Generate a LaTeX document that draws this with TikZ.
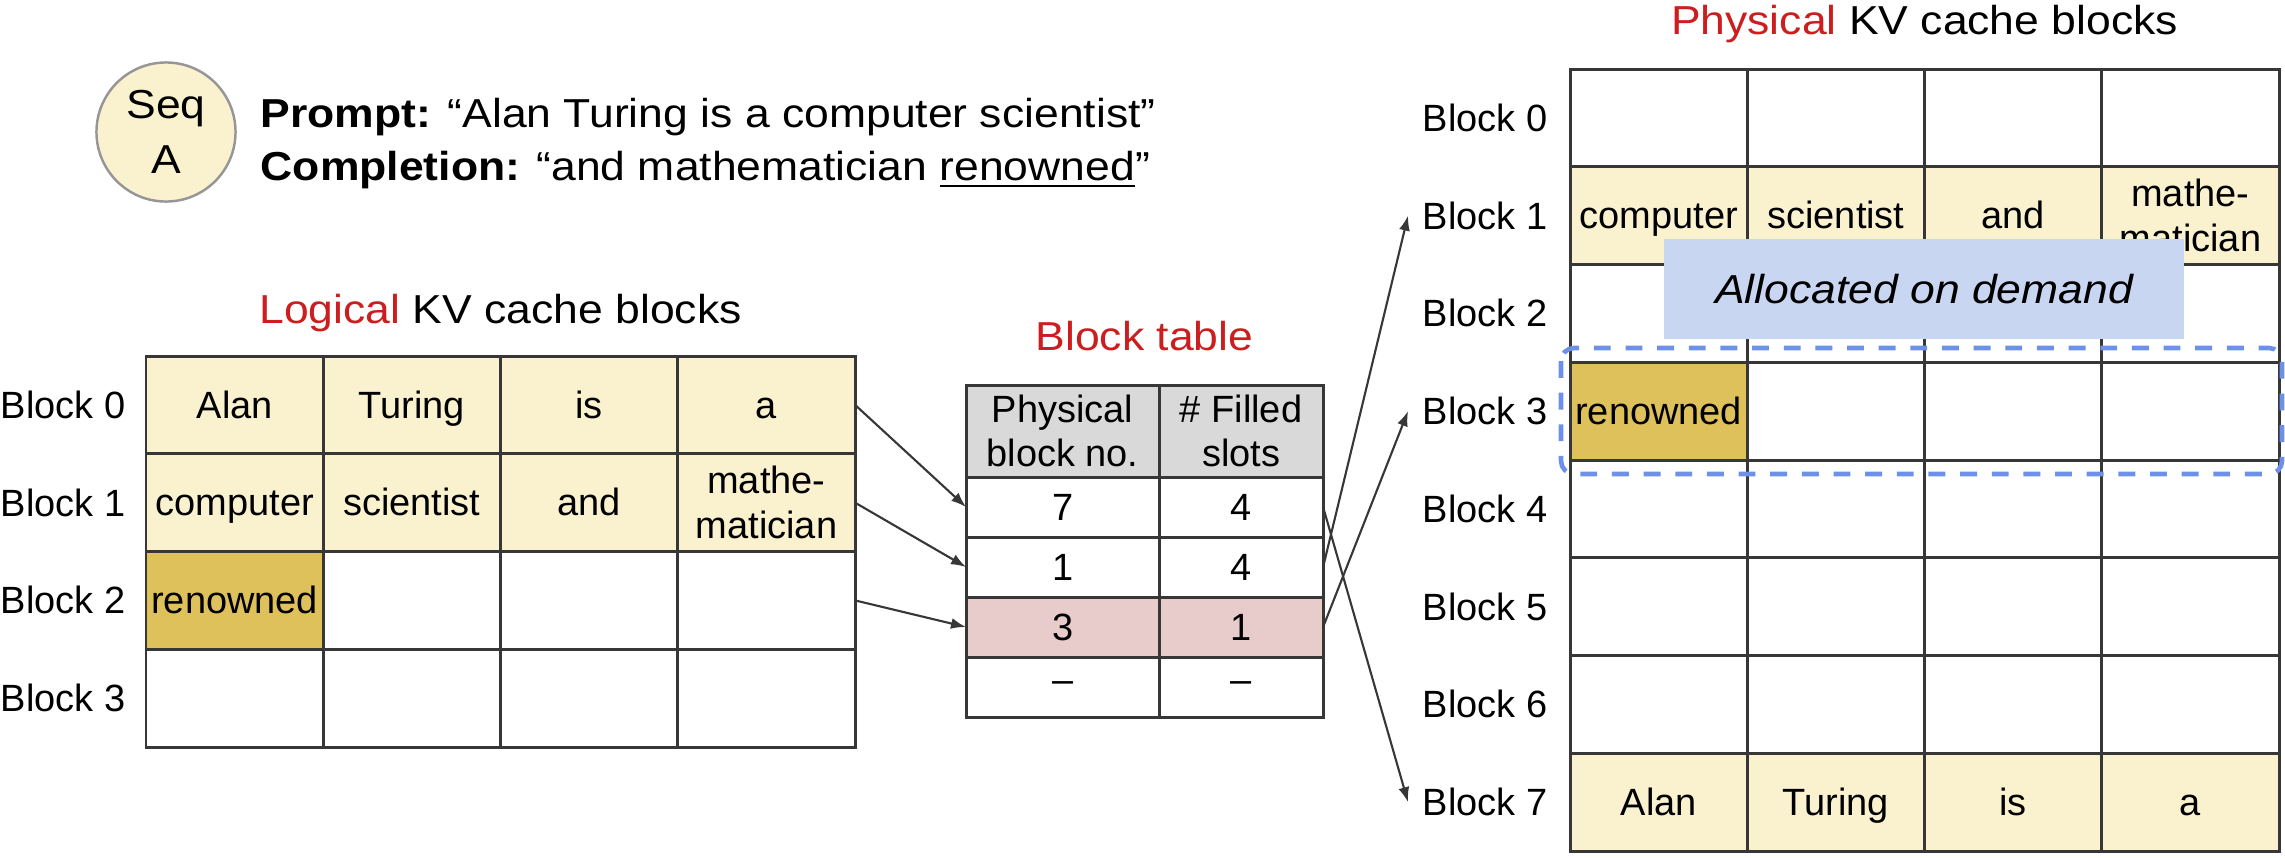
\documentclass[tikz,border=0pt]{standalone}
\usepackage{fontspec}
\setmainfont{Liberation Sans}
\newfontfamily\widefont[FakeStretch=1.1]{Liberation Sans}
\usetikzlibrary{arrows.meta}
\definecolor{lyel}{RGB}{250,241,206}
\definecolor{gold}{RGB}{222,193,90}
\definecolor{pinkrow}{RGB}{232,204,204}
\definecolor{hgray}{RGB}{217,217,217}
\definecolor{lav}{RGB}{201,214,242}
\definecolor{dblue}{RGB}{109,145,232}
\definecolor{tred}{RGB}{204,30,30}
\definecolor{tline}{RGB}{55,55,55}
\definecolor{cgray}{RGB}{150,150,150}
\newcommand\bodyfs{\fontsize{10.8}{12.7}\selectfont}
\newcommand\bigfs{\widefont\fontsize{11.5}{15.1}\selectfont}
\begin{document}
\begin{tikzpicture}[x=0.01cm, y=-0.01cm,
  cellbase/.style={draw=tline, line width=0.85pt, minimum width=1.7725cm, minimum height=0.9775cm,
    inner sep=0pt, outer sep=0pt, anchor=north west, align=center, font=\bodyfs},
  cell/.style={cellbase, text height=9.8pt, text depth=2.3pt},
  tcell/.style={draw=tline, line width=0.85pt, minimum height=0.6cm,
    inner sep=0pt, outer sep=0pt, anchor=north west, align=center, font=\bodyfs},
  lab/.style={anchor=east, inner sep=0pt, font=\bodyfs},
  plab/.style={anchor=east, inner ysep=0pt, inner xsep=0.14cm, font=\bodyfs},
  arr/.style={draw=tline, line width=0.6pt, -{Latex[length=0.15cm,width=0.11cm]}},
  title/.style={font=\bigfs, anchor=base, inner sep=0pt},
]
\useasboundingbox (0,0) rectangle (2285,857);

% ---- sequence description
\node[circle, draw=cgray, line width=0.7pt, fill=lyel, minimum size=1.39cm, inner sep=0pt,
  align=center, font=\widefont\fontsize{11.5}{15.6}\selectfont] (seq) at (166,132) {Seq\\A};
\node[anchor=base west, inner sep=0pt, font=\bigfs] (prompt) at (260,127.5)
  {{\bfseries Prompt:} “Alan Turing is a computer scientist”};
\node[anchor=base west, inner sep=0pt, font=\bigfs] (compl) at (260,180.5)
  {{\bfseries Completion:} “and mathematician \underline{renowned}”};

% ---- logical KV cache blocks
\node[title] (ltitle) at (500.5,323) {\textcolor{tred}{Logical} KV cache blocks};
\foreach \c/\t in {0/Alan,1/Turing,2/is,3/a}
  \node[cell, fill=lyel] (L-0-\c) at ({146+177.25*\c},356) {\t};
\foreach \c/\t in {0/computer,1/scientist,2/and}
  \node[cell, fill=lyel] (L-1-\c) at ({146+177.25*\c},453.75) {\t};
\node[cellbase, fill=lyel] (L-1-3) at (677.75,453.75) {mathe-\\matician};
\node[cell, fill=gold] (L-2-0) at (146,551.5) {renowned};
\foreach \c in {1,2,3}
  \node[cell] (L-2-\c) at ({146+177.25*\c},551.5) {};
\foreach \c in {0,...,3}
  \node[cell] (L-3-\c) at ({146+177.25*\c},649.25) {};
\foreach \r in {0,...,3}
  \node[lab] (LB\r) at (126,{404.875+97.75*\r}) {Block \r};

% ---- block table
\node[title] (btitle) at (1144.5,350.7) {\textcolor{tred}{Block table}};
\node[tcell, fill=hgray, minimum width=1.93cm, minimum height=0.92cm] (T-0-1) at (966,385) {Physical\\block no.};
\node[tcell, fill=hgray, minimum width=1.64cm, minimum height=0.92cm] (T-0-2) at (1159,385) {\# Filled\\slots};
\node[tcell, minimum width=1.93cm] (T-1-1) at (966,477) {7};
\node[tcell, minimum width=1.64cm] (T-1-2) at (1159,477) {4};
\node[tcell, minimum width=1.93cm] (T-2-1) at (966,537) {1};
\node[tcell, minimum width=1.64cm] (T-2-2) at (1159,537) {4};
\node[tcell, fill=pinkrow, minimum width=1.93cm] (T-3-1) at (966,597) {3};
\node[tcell, fill=pinkrow, minimum width=1.64cm] (T-3-2) at (1159,597) {1};
\node[tcell, minimum width=1.93cm] (T-4-1) at (966,657) {–};
\node[tcell, minimum width=1.64cm] (T-4-2) at (1159,657) {–};

% ---- physical KV cache blocks
\node[title] (ptitle) at (1924.5,34) {\textcolor{tred}{Physical} KV cache blocks};
\foreach \c in {0,...,3}
  \node[cell] (P-0-\c) at ({1570+177.25*\c},69) {};
\foreach \c/\t in {0/computer,1/scientist,2/and}
  \node[cell, fill=lyel] (P-1-\c) at ({1570+177.25*\c},166.75) {\t};
\node[cellbase, fill=lyel] (P-1-3) at (2101.75,166.75) {mathe-\\matician};
\foreach \c in {0,...,3}
  \node[cell] (P-2-\c) at ({1570+177.25*\c},264.5) {};
\node[cell, fill=gold] (P-3-0) at (1570,362.25) {renowned};
\foreach \c in {1,2,3}
  \node[cell] (P-3-\c) at ({1570+177.25*\c},362.25) {};
\foreach \r/\yy in {4/460,5/557.75,6/655.5}
  \foreach \c in {0,...,3}
    \node[cell] (P-\r-\c) at ({1570+177.25*\c},\yy) {};
\foreach \c/\t in {0/Alan,1/Turing,2/is,3/a}
  \node[cell, fill=lyel] (P-7-\c) at ({1570+177.25*\c},753.25) {\t};
\foreach \r in {0,...,7}
  \node[plab] (PB\r) at (1562,{117.875+97.75*\r}) {Block \r};

% ---- connectors
\draw[arr] (L-0-3.east) -- (T-1-1.west);
\draw[arr] (L-1-3.east) -- (T-2-1.west);
\draw[arr] (L-2-3.east) -- (T-3-1.west);
\draw[arr] (T-1-2.east) -- (PB7.west);
\draw[arr] (T-2-2.east) -- (PB1.west);
\draw[arr] (T-3-2.east) -- (PB3.west);

% ---- on-demand allocation
\node[fill=lav, minimum width=5.2cm, minimum height=1.0cm, inner sep=0pt,
  font=\bigfs\itshape] (alloc) at (1924,289) {Allocated on demand};
\draw[dblue, line width=1.3pt, dash pattern=on 4.8pt off 4.2pt, rounded corners=0.13cm]
  (1561,348) rectangle (2282,474);
\end{tikzpicture}
\end{document}
